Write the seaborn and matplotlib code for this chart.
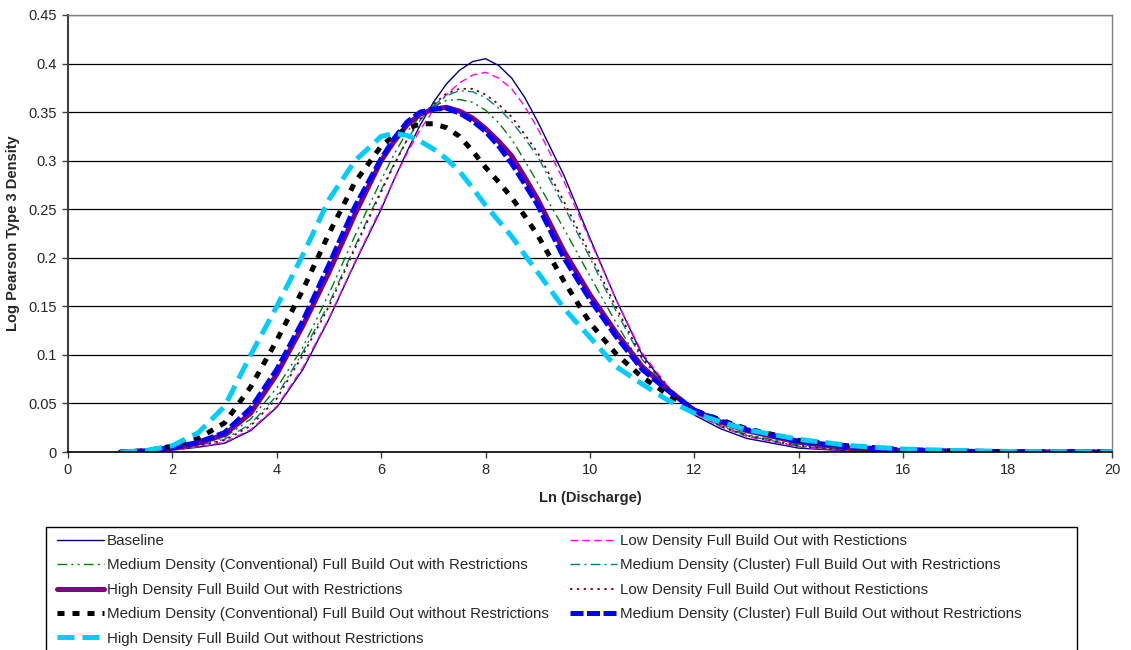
import matplotlib
matplotlib.use("Agg")
import matplotlib.pyplot as plt
from matplotlib.patches import Rectangle
from matplotlib.ticker import FuncFormatter, MultipleLocator
import numpy as np
import seaborn as sns

# Ln(discharge) sample points (finer around the peaks)
ln_q = [1, 1.5, 2, 2.5, 3, 3.5, 4, 4.5, 5, 5.5, 6, 6.25, 6.5, 6.75, 7, 7.25, 7.5, 7.75,
        8, 8.25, 8.5, 8.75, 9, 9.5, 10, 10.5, 11, 11.5, 12, 12.5, 13, 14, 15, 16, 17, 18, 19, 20]

# density values
baseline = [0, 0.0005, 0.002, 0.005, 0.009, 0.022, 0.046, 0.085, 0.137, 0.195, 0.25, 0.281,
            0.31, 0.337, 0.36, 0.379, 0.393, 0.402, 0.405, 0.398, 0.385, 0.365, 0.34, 0.285,
            0.22, 0.157, 0.10, 0.065, 0.038, 0.024, 0.014, 0.004, 0.001, 0.0002, 0, 0, 0, 0]
low_with = [0, 0.0005, 0.002, 0.0055, 0.01, 0.023, 0.047, 0.087, 0.138, 0.196, 0.252, 0.281,
            0.308, 0.332, 0.352, 0.368, 0.38, 0.388, 0.391, 0.385, 0.374, 0.356, 0.333, 0.279,
            0.218, 0.157, 0.102, 0.067, 0.04, 0.026, 0.016, 0.005, 0.0013, 0.0003, 0.0001, 0, 0, 0]
med_conv_with = [0, 0.0008, 0.0035, 0.008, 0.015, 0.034, 0.066, 0.108, 0.163, 0.223, 0.28, 0.307,
                 0.33, 0.346, 0.356, 0.362, 0.363, 0.36, 0.352, 0.339, 0.322, 0.3, 0.277, 0.23,
                 0.181, 0.133, 0.088, 0.064, 0.041, 0.028, 0.018, 0.007, 0.0022, 0.0007, 0.0002,
                 0.0001, 0, 0]
med_clus_with = [0, 0.0007, 0.003, 0.007, 0.013, 0.029, 0.058, 0.103, 0.153, 0.212, 0.27, 0.297,
                 0.322, 0.342, 0.357, 0.367, 0.372, 0.371, 0.365, 0.354, 0.34, 0.323, 0.304, 0.253,
                 0.2, 0.145, 0.095, 0.066, 0.041, 0.027, 0.017, 0.006, 0.0018, 0.0005, 0.0001,
                 0, 0, 0]
high_with = [0, 0.001, 0.004, 0.009, 0.018, 0.04, 0.08, 0.13, 0.185, 0.245, 0.3, 0.32,
             0.337, 0.348, 0.353, 0.355, 0.351, 0.344, 0.333, 0.32, 0.305, 0.283, 0.26, 0.207,
             0.162, 0.123, 0.088, 0.064, 0.043, 0.031, 0.022, 0.01, 0.004, 0.0015, 0.0006,
             0.0002, 0.0001, 0]
low_without = [0, 0.0006, 0.0025, 0.0065, 0.012, 0.027, 0.055, 0.1, 0.15, 0.21, 0.268, 0.296,
               0.322, 0.343, 0.358, 0.369, 0.374, 0.374, 0.368, 0.358, 0.345, 0.327, 0.308, 0.258,
               0.204, 0.149, 0.097, 0.067, 0.041, 0.027, 0.017, 0.006, 0.0018, 0.0005, 0.0001,
               0, 0, 0]
med_conv_without = [0, 0.0013, 0.006, 0.014, 0.03, 0.067, 0.115, 0.167, 0.225, 0.278, 0.315, 0.326,
                    0.333, 0.338, 0.338, 0.334, 0.325, 0.31, 0.293, 0.278, 0.262, 0.243, 0.223,
                    0.176, 0.133, 0.101, 0.077, 0.059, 0.043, 0.033, 0.024, 0.012, 0.006, 0.0025,
                    0.001, 0.0004, 0.0002, 0.0001]
med_clus_without = [0, 0.001, 0.0045, 0.01, 0.02, 0.045, 0.085, 0.135, 0.193, 0.253, 0.302, 0.323,
                    0.34, 0.35, 0.353, 0.354, 0.349, 0.341, 0.33, 0.315, 0.297, 0.276, 0.254, 0.2,
                    0.157, 0.119, 0.085, 0.063, 0.043, 0.032, 0.023, 0.011, 0.005, 0.002, 0.0008,
                    0.0003, 0.0001, 0]
high_without = [0, 0.0015, 0.0065, 0.02, 0.047, 0.1, 0.15, 0.203, 0.26, 0.3, 0.325, 0.328,
                0.326, 0.32, 0.312, 0.302, 0.289, 0.272, 0.254, 0.238, 0.222, 0.203, 0.185, 0.148,
                0.118, 0.088, 0.07, 0.053, 0.04, 0.031, 0.023, 0.013, 0.0065, 0.003, 0.0015,
                0.0006, 0.0003, 0.0001]

labels = [
    "Baseline",
    "Low Density Full Build Out with Restictions",
    "Medium Density (Conventional) Full Build Out with Restrictions",
    "Medium Density (Cluster) Full Build Out with Restrictions",
    "High Density Full Build Out with Restrictions",
    "Low Density Full Build Out without Restictions",
    "Medium Density (Conventional) Full Build Out without Restrictions",
    "Medium Density (Cluster) Full Build Out without Restrictions",
    "High Density Full Build Out without Restrictions",
]
series = [baseline, low_with, med_conv_with, med_clus_with, high_with,
          low_without, med_conv_without, med_clus_without, high_without]

# (color, linewidth, linestyle)
styles = [
    ("#000080", 1.0, "-"),
    ("#FF00FF", 1.0, (0, (5.5, 3))),
    ("#008000", 1.0, (0, (7, 3, 1.5, 3, 1.5, 3))),
    ("#008080", 1.0, (0, (7, 3, 1.5, 3))),
    ("#800080", 3.6, "-"),
    ("#800000", 1.3, (0, (1.3, 2.5))),
    ("#000000", 3.6, (0, (1.4, 1.6))),
    ("#0000FF", 3.6, (0, (2.6, 0.7))),
    ("#00CCFF", 3.6, (0, (3.4, 1.6))),
]

sns.set_style("white")
plt.rcParams["font.family"] = ["Liberation Sans", "DejaVu Sans"]

fig = plt.figure(figsize=(11.31, 6.5), dpi=100)
ax = fig.add_axes([68 / 1131, 1 - 452 / 650, (1112 - 68) / 1131, (452 - 15) / 650])

for vals, lab, (col, lw, ls) in zip(series, labels, styles):
    sns.lineplot(x=ln_q, y=vals, ax=ax, color=col, linewidth=lw, linestyle=ls,
                 label=lab, legend=False)

ax.set_xlim(0, 20)
ax.set_ylim(0, 0.45)
ax.xaxis.set_major_locator(MultipleLocator(2))
ax.yaxis.set_major_locator(MultipleLocator(0.05))
ax.yaxis.set_major_formatter(FuncFormatter(lambda v, p: f"{v:.2f}".rstrip("0").rstrip(".")))
ax.yaxis.grid(True, color="black", linewidth=0.9)
ax.set_axisbelow(True)
ax.tick_params(axis="both", direction="out", length=4, width=1, color="#404040",
               labelsize=10.5, left=True, bottom=True, pad=4)
for side in ["top", "right"]:
    ax.spines[side].set_color("#808080")
    ax.spines[side].set_linewidth(1)
ax.spines["left"].set_color("#404040")
ax.spines["left"].set_linewidth(1.5)
ax.spines["bottom"].set_color("black")
ax.spines["bottom"].set_linewidth(1.2)

ax.set_xlabel("Ln (Discharge)", fontsize=10.5, fontweight="bold", labelpad=10)
ax.set_ylabel("Log Pearson Type 3 Density", fontsize=10.5, fontweight="bold", labelpad=6)

# legend: excel order is row-major, matplotlib fills columns
lines = ax.get_lines()
order = [0, 2, 4, 6, 8, 1, 3, 5, 7]
leg = fig.legend([lines[i] for i in order], [labels[i] for i in order], ncol=2,
                 loc="upper left", bbox_to_anchor=(57 / 1131, 1 - 534 / 650),
                 frameon=False, fontsize=10.9, handlelength=3.1, handletextpad=0.2,
                 columnspacing=1.4, labelspacing=0.69, borderpad=0, borderaxespad=0)

fig.patches.append(Rectangle((46 / 1131, -0.01), (1077 - 46) / 1131, 0.01 + 1 - 527 / 650,
                             transform=fig.transFigure, fill=False, edgecolor="black",
                             linewidth=1))

fig.savefig("out.png", dpi=100)
